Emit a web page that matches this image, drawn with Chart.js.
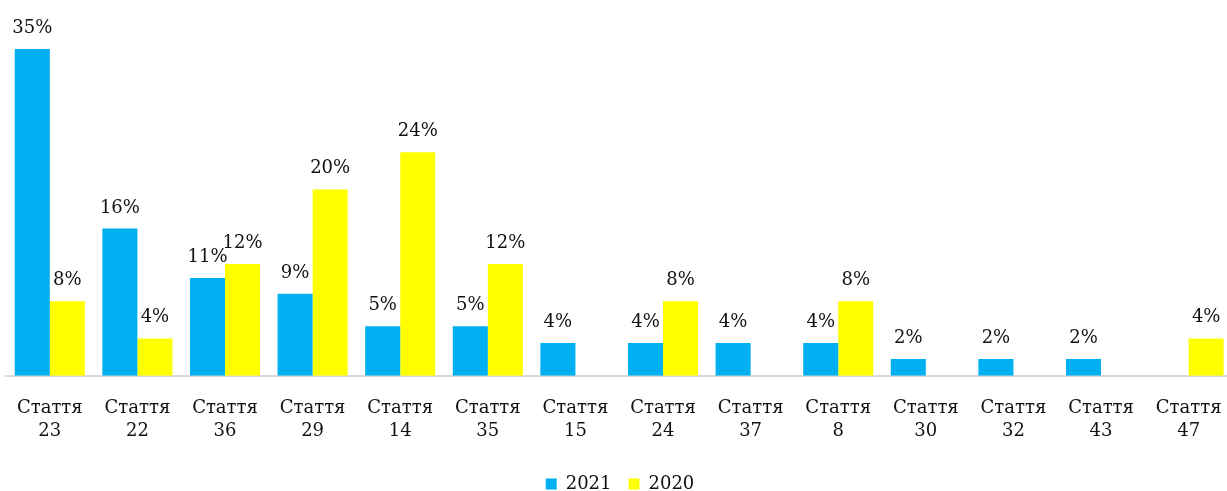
<!DOCTYPE html>
<html>
<head>
<meta charset="utf-8">
<script src="https://cdn.jsdelivr.net/npm/chart.js@4"></script>
<style>
  html, body { margin: 0; padding: 0; background: #fff; overflow: hidden; }
  #wrap { width: 1227px; height: 491px; overflow: hidden; }
</style>
</head>
<body>
<div id="wrap"><canvas id="chart" width="1234" height="491"></canvas></div>
<script>
const articles = ["23", "22", "36", "29", "14", "35", "15", "24", "37", "8", "30", "32", "43", "47"];
const values2021 = [35.1, 15.8, 10.5, 8.8, 5.3, 5.3, 3.5, 3.5, 3.5, 3.5, 1.8, 1.8, 1.8, null];
const values2020 = [8, 4, 12, 20, 24, 12, null, 8, null, 8, null, null, null, 4];

const font = "'DejaVu Serif', serif";

// value labels above each bar
const barLabels = {
    id: "barLabels",
    afterDatasetsDraw(chart) {
        const c = chart.ctx;
        c.save();
        c.font = "18px " + font;
        c.fillStyle = "#111";
        c.textAlign = "center";
        c.textBaseline = "alphabetic";
        chart.data.datasets.forEach((ds, i) => {
            chart.getDatasetMeta(i).data.forEach((bar, j) => {
                const v = ds.data[j];
                if (v == null) return;
                c.fillText(Math.round(v) + "%", bar.x, bar.y - 16);
            });
        });
        c.restore();
    }
};

new Chart(document.getElementById("chart").getContext("2d"), {
    type: "bar",
    data: {
        labels: articles.map(a => ["Стаття", a]),
        datasets: [
            { label: "2021", data: values2021, backgroundColor: "#00b0f0", barPercentage: 1, categoryPercentage: 0.8 },
            { label: "2020", data: values2020, backgroundColor: "#ffff00", barPercentage: 1, categoryPercentage: 0.8 }
        ]
    },
    options: {
        responsive: false,
        animation: false,
        layout: { padding: { left: 6, right: 0, top: 0, bottom: -12 } },
        plugins: {
            legend: {
                position: "bottom",
                labels: { boxWidth: 11, boxHeight: 11, color: "#111", font: { family: font, size: 18 }, padding: 17 }
            },
            tooltip: { enabled: false }
        },
        scales: {
            x: {
                grid: { display: false },
                border: { color: "#d9d9d9", width: 2 },
                ticks: { color: "#111", font: { family: font, size: 18, lineHeight: 1.3 }, maxRotation: 0, autoSkip: false, padding: 12.5 },
                afterFit(scale) { scale.height += 2.5; }
            },
            y: { display: false, min: 0, max: 40.35 }
        }
    },
    plugins: [barLabels]
});
</script>
</body>
</html>
